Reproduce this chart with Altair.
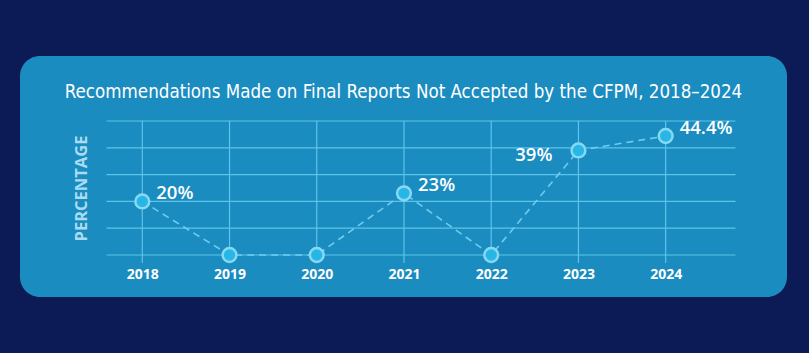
import altair as alt
import pandas as pd

# ---- data ----
years = [2018, 2019, 2020, 2021, 2022, 2023, 2024]
values = [20, 0, 0, 23, 0, 39, 44.4]
labels = ["20%", "", "", "23%", "", "39%", "44.4%"]
grid_values = [0, 10, 20, 30, 40, 50]
title_text = "Recommendations Made on Final Reports Not Accepted  by the CFPM, 2018\u20132024"

df = pd.DataFrame({"year": years, "value": values, "label": labels})
grid_df = pd.DataFrame({"g": grid_values})
vgrid_df = pd.DataFrame({"year": years})

# ---- layout ----
W, H = 767, 241
xscale = alt.Scale(domain=[2016.598, 2025.391], nice=False, zero=False)
yscale = alt.Scale(domain=[-15.67, 74.25], nice=False, zero=False)
GRID = "#5ec4ea"
COND = "DejaVu Sans Condensed, sans-serif"

xaxis = alt.Axis(
    values=years, format="d", grid=False, ticks=False, domain=False,
    labelColor="white", labelFont="Open Sans", labelFontWeight="bold",
    labelFontSize=14, labelPadding=0, labelBaseline="middle", offset=-23,
    title="", labelFlush=False,
)
yaxis = alt.Axis(
    title="PERCENTAGE", labels=False, ticks=False, domain=False, grid=False,
    titleColor="#a9dcf2", titleFont="Open Sans", titleFontWeight="bold",
    titleFontSize=16.5, titleAngle=270, titleX=61, titleY=132,
    titleAlign="center", titleBaseline="middle",
)

hgrid = alt.Chart(grid_df).mark_rule(color=GRID, strokeWidth=1.2).encode(
    y=alt.Y("g:Q", scale=yscale, axis=yaxis),
    x=alt.XDatum(2017.59, scale=xscale, axis=xaxis),
    x2=alt.X2Datum(2024.8),
)

vgrid = alt.Chart(vgrid_df).mark_rule(color=GRID, strokeWidth=1.2).encode(
    x=alt.X("year:Q", scale=xscale),
    y=alt.YDatum(-3, scale=yscale),
    y2=alt.Y2Datum(50),
)

line = alt.Chart(df).mark_line(color="#6dccef", strokeWidth=1.6, strokeDash=[7, 5]).encode(
    x=alt.X("year:Q", scale=xscale),
    y=alt.Y("value:Q", scale=yscale),
)

points = alt.Chart(df).mark_circle(
    size=190, color="#27b6e6", opacity=1, stroke="#86d8f3", strokeWidth=2.5
).encode(
    x=alt.X("year:Q", scale=xscale),
    y=alt.Y("value:Q", scale=yscale),
)

text_style = dict(font="Open Sans", fontWeight=600, fontSize=18.5, color="white")

labels_right = alt.Chart(df).transform_filter(
    "datum.label != '' && datum.year != 2023"
).mark_text(align="left", baseline="middle", dx=14, dy=-8, **text_style).encode(
    x=alt.X("year:Q", scale=xscale),
    y=alt.Y("value:Q", scale=yscale),
    text="label:N",
)

labels_left = alt.Chart(df).transform_filter(
    "datum.year == 2023"
).mark_text(align="right", baseline="middle", dx=-26, dy=5, **text_style).encode(
    x=alt.X("year:Q", scale=xscale),
    y=alt.Y("value:Q", scale=yscale),
    text="label:N",
)

chart = alt.layer(hgrid, vgrid, line, points, labels_right, labels_left).properties(
    width=W,
    height=H,
    title=alt.TitleParams(
        title_text, font=COND, fontSize=18.6, fontWeight="normal",
        color="white", anchor="middle", frame="group", offset=-61, baseline="alphabetic",
    ),
    autosize=alt.AutoSizeParams(type="none"),
    padding={"left": 20, "top": 56, "right": 22, "bottom": 56},
    background="#0c1a56",
).configure_view(
    fill="#1a8cbf", strokeWidth=0, cornerRadius=20
)

chart.save("out.html", embed_options={"renderer": "svg", "actions": False})
